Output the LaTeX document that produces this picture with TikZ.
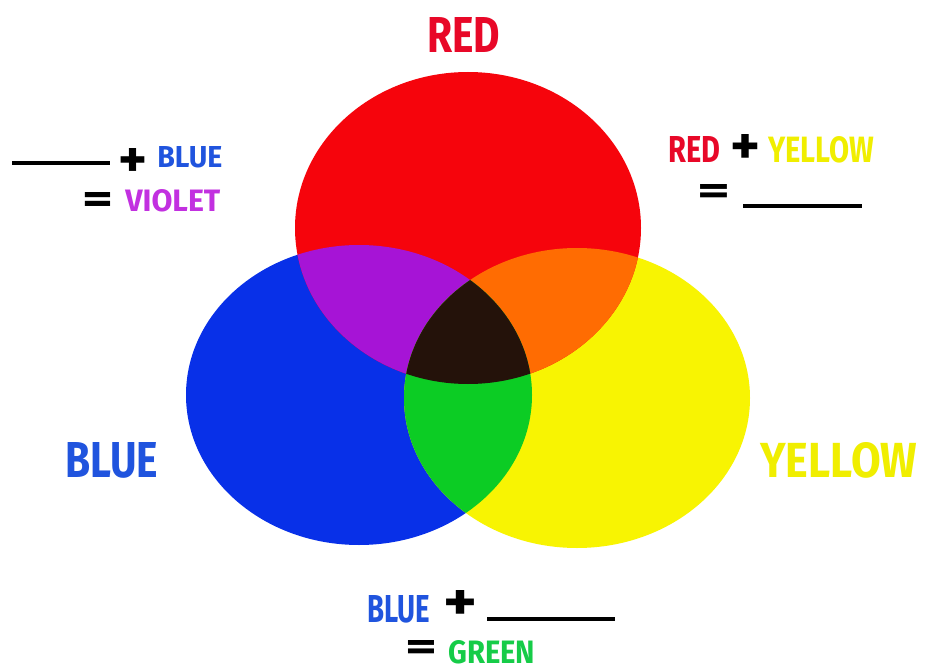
\documentclass[tikz,border=0pt]{standalone}
\usepackage{fontspec}
\setmainfont{Fira Sans}
\usepackage{graphicx}
\usepackage{xcolor}
\usetikzlibrary{positioning}

\definecolor{cred}{RGB}{246,4,12}
\definecolor{cblue}{RGB}{8,48,232}
\definecolor{cyellow}{RGB}{248,244,2}
\definecolor{cviolet}{RGB}{166,20,214}
\definecolor{corange}{RGB}{255,108,2}
\definecolor{cgreen}{RGB}{12,204,36}
\definecolor{cdark}{RGB}{36,18,10}
\definecolor{tred}{RGB}{232,8,40}
\definecolor{tblue}{RGB}{32,84,222}
\definecolor{tviolet}{RGB}{194,48,224}
\definecolor{tyellow}{RGB}{240,238,0}
\definecolor{tgreen}{RGB}{22,204,72}

\newlength\pxu
\setlength\pxu{0.02cm}
\newcommand{\wrd}[3]{\resizebox{#1\pxu}{#2\pxu}{\bfseries #3}}

\tikzset{
  lbl/.style={inner sep=0pt, anchor=base west},
  blank/.style={line width=4\pxu, black},
}

\begin{document}
\begin{tikzpicture}[x=0.02cm, y=-0.02cm]
  \fill[white] (0,0) rectangle (927,669);
  \useasboundingbox (0,0) rectangle (927,669);

  % the three discs
  \def\redpath{(468,228) ellipse [x radius=173, y radius=156]}
  \def\bluepath{(359,395) ellipse [x radius=173, y radius=150]}
  \def\yelpath{(577,398) ellipse [x radius=173, y radius=150]}
  \fill[cblue] \bluepath;
  \fill[cyellow] \yelpath;
  \fill[cred] \redpath;
  \begin{scope}
    \clip \redpath;
    \fill[cviolet] \bluepath;
    \fill[corange] \yelpath;
  \end{scope}
  \begin{scope}
    \clip \bluepath;
    \fill[cgreen] \yelpath;
    \clip \yelpath;
    \fill[cdark] \redpath;
  \end{scope}

  % names of the colours
  \node[lbl, text=tred] (red) at (427,53) {\wrd{73}{35}{RED}};
  \node[lbl, text=tblue] (blue) at (65,477) {\wrd{93}{35}{BLUE}};
  \node[lbl, text=tyellow] (yellow) at (760,477) {\wrd{157}{35}{YELLOW}};

  % top left
  \draw[blank] (12,163) -- (110,163);
  \node[lbl] (plusa) at (118,177) {\wrd{29}{29}{+}};
  \node[lbl, text=tblue] (bluea) at (157,168) {\wrd{65}{21}{BLUE}};
  \node[lbl] (eqa) at (82,214) {\wrd{31}{21}{=}};
  \node[lbl, text=tviolet] (violet) at (125,212) {\wrd{95}{22}{VIOLET}};

  % top right
  \node[lbl, text=tred] (redb) at (668,163) {\wrd{52}{26}{RED}};
  \node[lbl] (plusb) at (730,165) {\wrd{30}{30}{+}};
  \node[lbl, text=tyellow] (yellowb) at (768,163) {\wrd{106}{26}{YELLOW}};
  \node[lbl] (eqb) at (697,205) {\wrd{33}{20}{=}};
  \draw[blank] (743,206) -- (862,206);

  % bottom
  \node[lbl, text=tblue] (bluec) at (367,622) {\wrd{63}{27}{BLUE}};
  \node[lbl] (plusc) at (443,620) {\wrd{34}{30}{+}};
  \draw[blank] (487,619) -- (615,619);
  \node[lbl] (eqc) at (405,660) {\wrd{32}{20}{=}};
  \node[lbl, text=tgreen] (green) at (448,663) {\wrd{87}{23}{GREEN}};
\end{tikzpicture}
\end{document}
